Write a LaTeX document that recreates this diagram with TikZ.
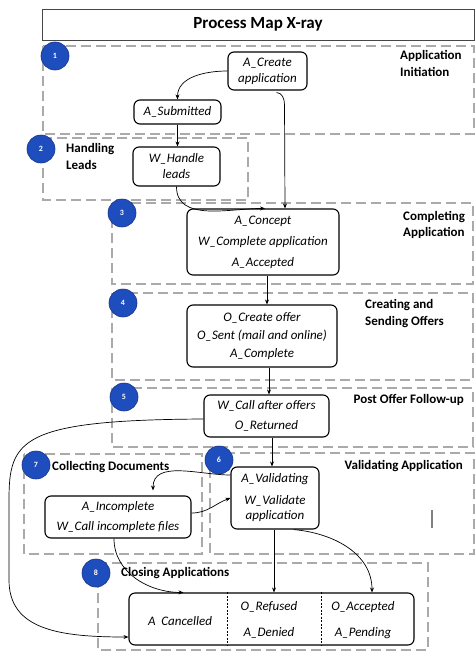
\documentclass[tikz,border=0pt]{standalone}
\usepackage{fontspec}
\setmainfont{Carlito}
\usetikzlibrary{arrows.meta,calc}
\definecolor{regiongray}{RGB}{170,170,170}
\definecolor{circfill}{RGB}{30,78,190}
\definecolor{circdraw}{RGB}{25,50,135}
\definecolor{titledraw}{RGB}{70,70,70}
\tikzset{
  region/.style={draw=regiongray, line width=1.3pt, dash pattern=on 10pt off 5pt},
  stepbox/.style={draw=black, line width=1.1pt, rounded corners=6pt, fill=white, align=center, inner sep=0pt},
  badge/.style={circle, fill=circfill, draw=circdraw, line width=0.6pt, minimum size=28pt, inner sep=0pt, text=white, font=\bfseries\fontsize{8}{9}\selectfont},
  lbl/.style={font=\bfseries\fontsize{13}{16.5}\selectfont, align=left, inner sep=0pt},
  txt/.style={font=\itshape\fontsize{13}{14}\selectfont, inner sep=0pt},
  arr/.style={-{Stealth[length=5pt,width=4pt]}, line width=0.7pt},
  divider/.style={black, line width=0.6pt, dash pattern=on 2pt off 1.5pt}
}
\begin{document}
\begin{tikzpicture}[x=1pt,y=1pt]
\useasboundingbox (0,0) rectangle (476,-653);

% title
\node[draw=titledraw, line width=1pt, minimum width=432pt, minimum height=31pt, inner sep=0pt,
      font=\bfseries\fontsize{17}{19}\selectfont] (title) at (258,-24.5) {Process Map X-ray};

% regions
\draw[region] (43,-46) rectangle (474,-134);
\draw[region] (43,-138) rectangle (248,-200);
\draw[region] (112,-203) rectangle (473,-284);
\draw[region] (112,-293) rectangle (473,-380);
\draw[region] (112,-388) rectangle (473,-447);
\draw[region] (24,-454) rectangle (202,-554);
\draw[region] (210,-453) rectangle (474,-554);
\draw[region] (98,-563) rectangle (428,-650);

% region labels
\node[lbl, anchor=west] (l1) at (400,-63.5) {Application\\Initiation};
\node[lbl, anchor=west] (l2) at (66,-156.5) {Handling\\Leads};
\node[lbl, anchor=west] (l3) at (403,-225) {Completing\\Application};
\node[lbl, anchor=west] (l4) at (365,-313.5) {Creating and\\Sending Offers};
\node[lbl, anchor=east] (l5) at (464,-400) {Post Offer Follow-up};
\node[lbl, anchor=west] (l7) at (52,-467) {Collecting Documents};
\node[lbl, anchor=east] (l6) at (463,-466) {Validating Application};
\node[lbl, anchor=west] (l8) at (121,-573) {Closing Applications};

% activity boxes
\node[stepbox, minimum width=79pt, minimum height=38pt, font=\itshape\fontsize{13}{16}\selectfont] (acreate) at (267.5,-71) {A\_Create\\application};
\node[stepbox, minimum width=87pt, minimum height=24pt, font=\itshape\fontsize{13}{16}\selectfont] (asub) at (177.5,-112) {A\_Submitted};
\node[stepbox, minimum width=87pt, minimum height=39pt, font=\itshape\fontsize{13}{16}\selectfont] (whandle) at (176.5,-166.5) {W\_Handle\\leads};
\node[stepbox, minimum width=152pt, minimum height=66pt, font=\itshape\fontsize{13}{21}\selectfont] (n3) at (263,-242) {A\_Concept\\W\_Complete application\\A\_Accepted};
\node[stepbox, minimum width=150pt, minimum height=62pt, font=\itshape\fontsize{13}{18}\selectfont] (n4) at (262,-336) {O\_Create offer\\O\_Sent (mail and online)\\A\_Complete};
\node[stepbox, minimum width=125pt, minimum height=42pt, font=\itshape\fontsize{13}{20}\selectfont] (n5) at (266.5,-416) {W\_Call after offers\\O\_Returned};
\node[stepbox, minimum width=88pt, minimum height=62pt, font=\itshape\fontsize{13}{15.5}\selectfont] (n6) at (275,-498) {A\_Validating\\[6pt]W\_Validate\\application};
\node[stepbox, minimum width=146pt, minimum height=42pt, font=\itshape\fontsize{13}{20}\selectfont] (n7) at (118,-517) {A\_Incomplete\\W\_Call incomplete files};
\node[stepbox, minimum width=285pt, minimum height=52pt] (n8) at (271.5,-619) {};
\draw[divider] ($(n8.north west)+(99,0)$) -- ($(n8.south west)+(99,0)$);
\draw[divider] ($(n8.north west)+(193,0)$) -- ($(n8.south west)+(193,0)$);
\node[txt] (tcanc) at (180,-621) {A~~Cancelled};
\node[txt] (tref) at (269,-607) {O\_Refused};
\node[txt] (tden) at (269,-633) {A\_Denied};
\node[txt] (tacc) at (363,-607) {O\_Accepted};
\node[txt] (tpend) at (363,-633) {A\_Pending};

% stray mark
\draw[gray, line width=1.3pt] (432,-510) -- (432,-528);

% connectors
\draw[arr] (acreate.west) to[out=180,in=90] (asub.north);
\draw[arr] (asub.south) -- (asub.south |- whandle.north);
\draw[arr] (whandle.south) to[out=-90,in=180] ($(n3.north)+(2,0)$);
\draw[arr] ($(acreate.south)+(9,-2)$) to[out=0,in=90] ($(acreate.south)+(17,-14)$) -- ($(n3.north)+(22,0)$);
\draw[arr] ($(n3.south)+(4,0)$) -- ($(n4.north)+(5,0)$);
\draw[arr] ($(n4.south)+(7,0)$) -- ($(n5.north)+(2.5,0)$);
\draw[arr] ($(n5.south)+(5.5,0)$) -- ($(n6.north)+(-3,0)$);
\draw[arr] ($(n5.west)+(0,-3)$) .. controls (20,-420) and (9,-440) .. (9,-500) -- (9,-580)
           .. controls (9,-630) and (60,-637) .. ($(n8.west)+(0,-18)$);
\draw[arr] ($(n6.west)+(0,23)$) to[out=180,in=90] ($(n7.north)+(35,5)$);
\draw[arr] ($(n7.east)+(0,4)$) to[out=0,in=200] (n6.west);
\draw[arr] ($(n7.south)+(-4,0)$) to[out=-90,in=180] ($(n8.north)+(-88,0)$);
\draw[arr] ($(n6.south)+(-1,0)$) -- ($(n8.north)+(2.5,0)$);
\draw[arr] ($(n6.south east)+(-26,0)$) to[out=-5,in=90] ($(n8.north)+(100.5,0)$);

% badges
\node[badge] (b1) at (55,-56) {1};
\node[badge] (b2) at (41,-149) {2};
\node[badge] (b3) at (122,-213) {3};
\node[badge] (b4) at (123,-303) {4};
\node[badge] (b5) at (124,-397) {5};
\node[badge] (b6) at (219,-460) {6};
\node[badge] (b7) at (36,-465) {7};
\node[badge] (b8) at (96,-573) {8};
\end{tikzpicture}
\end{document}
